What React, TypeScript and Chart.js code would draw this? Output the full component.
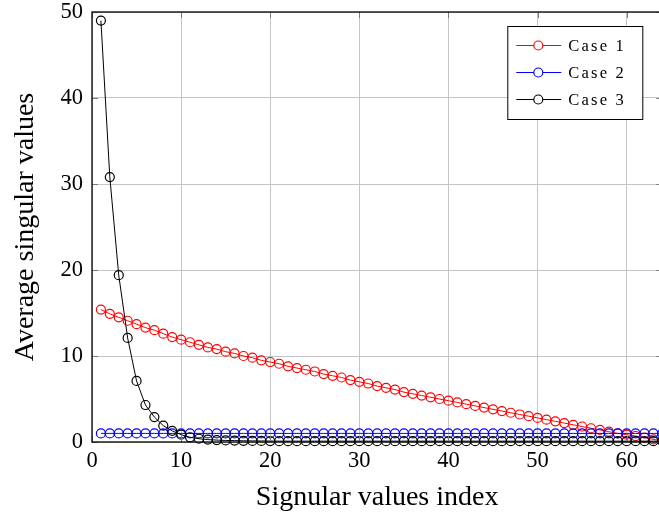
import React, { useEffect, useRef } from "react";
import { Chart, registerables } from "chart.js";

Chart.register(...registerables);

const indices: number[] = Array.from({ length: 64 }, (_, i) => i + 1);

const case1: number[] = [
  15.4, 14.9, 14.5, 14.1, 13.7, 13.3, 13.0, 12.6, 12.2, 11.9,
  11.6, 11.3, 11.0, 10.8, 10.5, 10.3, 10.0, 9.8, 9.5, 9.3,
  9.1, 8.8, 8.6, 8.4, 8.2, 7.9, 7.7, 7.5, 7.2, 7.0,
  6.8, 6.5, 6.3, 6.1, 5.8, 5.6, 5.4, 5.2, 5.0, 4.8,
  4.6, 4.4, 4.2, 4.0, 3.8, 3.6, 3.4, 3.2, 3.0, 2.8,
  2.6, 2.4, 2.2, 2.0, 1.8, 1.6, 1.4, 1.2, 1.0, 0.85,
  0.7, 0.5, 0.3, 0.15,
];

const case2: number[] = [
  1.0, 1.0, 1.0, 1.0, 1.0, 1.0, 1.0, 1.0, 1.0, 1.0,
  1.0, 1.0, 1.0, 1.0, 1.0, 1.0, 1.0, 1.0, 1.0, 1.0,
  1.0, 1.0, 1.0, 1.0, 1.0, 1.0, 1.0, 1.0, 1.0, 1.0,
  1.0, 1.0, 1.0, 1.0, 1.0, 1.0, 1.0, 1.0, 1.0, 1.0,
  1.0, 1.0, 1.0, 1.0, 1.0, 1.0, 1.0, 1.0, 1.0, 1.0,
  1.0, 1.0, 1.0, 1.0, 1.0, 1.0, 1.0, 1.0, 1.0, 1.0,
  1.0, 1.0, 1.0, 1.0,
];

const case3: number[] = [
  49.0, 30.8, 19.4, 12.1, 7.1, 4.3, 2.9, 1.9, 1.3, 0.85,
  0.55, 0.38, 0.28, 0.22, 0.18, 0.16, 0.14, 0.13, 0.12, 0.11,
  0.1, 0.1, 0.1, 0.1, 0.1, 0.1, 0.1, 0.1, 0.1, 0.1,
  0.1, 0.1, 0.1, 0.1, 0.1, 0.1, 0.1, 0.1, 0.1, 0.1,
  0.1, 0.1, 0.1, 0.1, 0.1, 0.1, 0.1, 0.1, 0.1, 0.1,
  0.1, 0.1, 0.1, 0.1, 0.1, 0.1, 0.1, 0.1, 0.1, 0.1,
  0.1, 0.1, 0.1, 0.1,
];

const seriesLabels: string[] = ["Case 1", "Case 2", "Case 3"];
const seriesColors: string[] = ["#ff0000", "#0000ff", "#000000"];
const xTicks: number[] = [0, 10, 20, 30, 40, 50, 60];
const yTicks: number[] = [0, 10, 20, 30, 40, 50];

const SERIF = "'Liberation Serif', 'DejaVu Serif', serif";

const framePlugin = {
  id: "frame",
  afterDatasetsDraw(chart: any) {
    const { ctx, chartArea, scales } = chart;
    const { left, right, top, bottom } = chartArea;
    ctx.save();
    ctx.strokeStyle = "#7a7a7a";
    ctx.lineWidth = 1;
    const tl = 6;
    xTicks.forEach((v) => {
      const x = Math.round(scales.x.getPixelForValue(v)) + 0.5;
      ctx.beginPath();
      ctx.moveTo(x, bottom);
      ctx.lineTo(x, bottom - tl);
      ctx.moveTo(x, top);
      ctx.lineTo(x, top + tl);
      ctx.stroke();
    });
    yTicks.forEach((v) => {
      const y = Math.round(scales.y.getPixelForValue(v)) + 0.5;
      ctx.beginPath();
      ctx.moveTo(left, y);
      ctx.lineTo(left + tl, y);
      ctx.moveTo(right, y);
      ctx.lineTo(right - tl, y);
      ctx.stroke();
    });
    ctx.strokeStyle = "#000";
    ctx.lineWidth = 1.3;
    ctx.strokeRect(left, top, right - left, bottom - top);

    // legend
    const bx = right - 155;
    const by = top + 14;
    const bw = 135;
    const bh = 93;
    ctx.fillStyle = "#fff";
    ctx.fillRect(bx, by, bw, bh);
    ctx.lineWidth = 1;
    ctx.strokeStyle = "#000";
    ctx.strokeRect(bx + 0.5, by + 0.5, bw, bh);
    ctx.font = "16.5px " + SERIF;
    (ctx as any).letterSpacing = "2.2px";
    ctx.textBaseline = "middle";
    ctx.textAlign = "left";
    chart.data.datasets.forEach((ds: any, i: number) => {
      const cy = by + 19.5 + i * 27;
      ctx.strokeStyle = ds.borderColor;
      ctx.lineWidth = 1;
      ctx.beginPath();
      ctx.moveTo(bx + 9, cy);
      ctx.lineTo(bx + 54, cy);
      ctx.stroke();
      ctx.fillStyle = "#fff";
      ctx.lineWidth = 1.2;
      ctx.beginPath();
      ctx.arc(bx + 31, cy, 4.5, 0, Math.PI * 2);
      ctx.fill();
      ctx.stroke();
      ctx.fillStyle = "#000";
      ctx.fillText(ds.label, bx + 61, cy + 1);
    });
    ctx.restore();
  },
};

export default function App() {
  const ref = useRef<HTMLCanvasElement | null>(null);

  useEffect(() => {
    document.body.style.margin = "0";
    const canvas = ref.current;
    if (!canvas) return;
    const chart = new Chart(canvas, {
      type: "line",
      data: {
        labels: indices,
        datasets: [case1, case2, case3].map((d, i) => ({
          label: seriesLabels[i],
          data: d.map((v, j) => ({ x: indices[j], y: v })),
          borderColor: seriesColors[i],
          backgroundColor: "rgba(0,0,0,0)",
          borderWidth: 1,
          pointRadius: 4.5,
          pointBorderWidth: 1.2,
          pointBackgroundColor: "rgba(0,0,0,0)",
          pointBorderColor: seriesColors[i],
          pointStyle: "circle",
          tension: 0,
          order: 2 - i,
          clip: 6,
        })),
      },
      options: {
        responsive: false,
        animation: false,
        devicePixelRatio: 1,
        layout: { padding: { top: 12, right: 2, left: 0, bottom: 0 } },
        plugins: {
          legend: { display: false },
          tooltip: { enabled: false },
        },
        scales: {
          x: {
            type: "linear",
            min: 0,
            max: 64,
            afterBuildTicks: (scale: any) => {
              scale.ticks = xTicks.map((v) => ({ value: v }));
            },
            afterFit: (scale: any) => {
              scale.height = 74;
              scale.paddingLeft = 0;
              scale.paddingRight = 0;
              scale.paddingTop = 0;
              scale.paddingBottom = 0;
            },
            ticks: {
              color: "#000",
              font: { family: SERIF, size: 22.5 },
              padding: 6,
              maxRotation: 0,
            },
            grid: { color: "#c4c4c4", lineWidth: 1, drawTicks: false },
            border: { display: false },
            title: {
              display: true,
              text: "Signular values index",
              color: "#000",
              font: { family: SERIF, size: 28 },
              padding: { top: 0, bottom: 2 },
            },
          },
          y: {
            type: "linear",
            min: 0,
            max: 50,
            afterBuildTicks: (scale: any) => {
              scale.ticks = yTicks.map((v) => ({ value: v }));
            },
            afterFit: (scale: any) => {
              scale.width = 92;
              scale.paddingLeft = 0;
              scale.paddingRight = 0;
              scale.paddingTop = 0;
              scale.paddingBottom = 0;
            },
            ticks: {
              color: "#000",
              font: { family: SERIF, size: 22.5 },
              padding: 9,
            },
            grid: { color: "#c4c4c4", lineWidth: 1, drawTicks: false },
            border: { display: false },
            title: {
              display: true,
              text: "Average singular values",
              color: "#000",
              font: { family: SERIF, size: 28 },
              padding: { top: 9, bottom: 0 },
            },
          },
        },
      },
      plugins: [framePlugin],
    });
    return () => chart.destroy();
  }, []);

  return (
    <div
      style={{
        position: "fixed",
        left: 0,
        top: 0,
        width: 659,
        height: 516,
        overflow: "hidden",
        background: "#fff",
      }}
    >
      <canvas ref={ref} width={668} height={516} style={{ display: "block", width: 668, height: 516 }} />
    </div>
  );
}
